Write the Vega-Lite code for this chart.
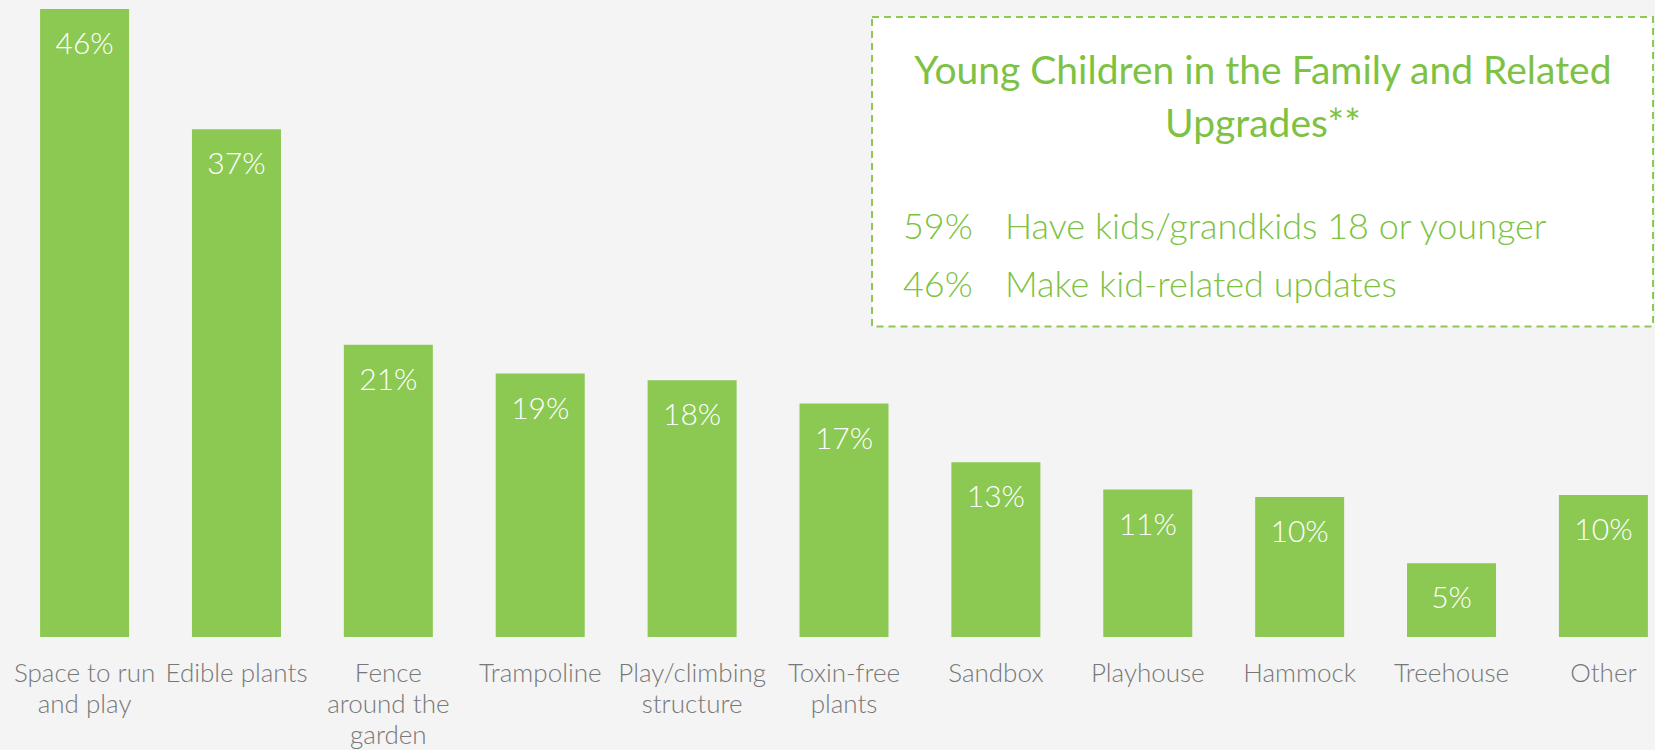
{
  "$schema": "https://vega.github.io/schema/vega-lite/v6.json",
  "autosize": {"type": "none"},
  "width": 1620,
  "height": 637,
  "padding": {"left": 34, "right": 1, "top": 0, "bottom": 113},
  "background": "#f4f4f4",
  "config": {"view": {"stroke": null}, "font": "Lato"},
  "datasets": {
    "upgrades": [
      {"upgrade": "Space to run and play", "share": 46.0, "label": "46%"},
      {"upgrade": "Edible plants", "share": 37.2, "label": "37%"},
      {"upgrade": "Fence around the garden", "share": 21.4, "label": "21%"},
      {"upgrade": "Trampoline", "share": 19.3, "label": "19%"},
      {"upgrade": "Play/climbing structure", "share": 18.8, "label": "18%"},
      {"upgrade": "Toxin-free plants", "share": 17.1, "label": "17%"},
      {"upgrade": "Sandbox", "share": 12.8, "label": "13%"},
      {"upgrade": "Playhouse", "share": 10.8, "label": "11%"},
      {"upgrade": "Hammock", "share": 10.25, "label": "10%"},
      {"upgrade": "Treehouse", "share": 5.4, "label": "5%"},
      {"upgrade": "Other", "share": 10.4, "label": "10%"}
    ],
    "heading": [{"text": "Young Children in the Family and Related\nUpgrades**"}],
    "facts": [
      {"pct": "59%", "statement": "Have kids/grandkids 18 or younger"},
      {"pct": "46%", "statement": "Make kid-related updates"}
    ]
  },
  "layer": [
    {
      "data": {"name": "upgrades"},
      "encoding": {
        "x": {
          "field": "upgrade",
          "type": "nominal",
          "sort": null,
          "scale": {"paddingInner": 0.414, "paddingOuter": 0.04},
          "axis": {
            "title": null,
            "ticks": false,
            "domain": false,
            "labelAngle": 0,
            "labelFontSize": 26,
            "labelFontWeight": 300,
            "labelFont": "Lato",
            "labelColor": "#777777",
            "labelBaseline": "alphabetic",
            "labelPadding": 44,
            "labelLineHeight": 31,
            "labelOverlap": false,
            "labelBound": false,
            "labelLimit": 0,
            "labelExpr": "datum.value == 'Space to run and play' ? ['Space to run', 'and play'] : datum.value == 'Fence around the garden' ? ['Fence', 'around the', 'garden'] : datum.value == 'Play/climbing structure' ? ['Play/climbing', 'structure'] : datum.value == 'Toxin-free plants' ? ['Toxin-free', 'plants'] : datum.value"
          }
        },
        "y": {
          "field": "share",
          "type": "quantitative",
          "scale": {"domain": [0, 46.66], "nice": false, "zero": true},
          "axis": null
        }
      },
      "layer": [
        {"mark": {"type": "bar", "color": "#8bc953"}},
        {
          "mark": {"type": "text", "color": "#ffffff", "fontSize": 30, "fontWeight": 300, "font": "Lato", "baseline": "alphabetic", "dy": 45},
          "encoding": {"text": {"field": "label"}}
        }
      ]
    },
    {
      "layer": [
        {
          "data": {"values": [{}]},
          "mark": {"type": "rect", "fill": "#ffffff", "stroke": "#8bc953", "strokeWidth": 2, "strokeDash": [7, 5]},
          "encoding": {
            "x": {"datum": 51.73, "type": "quantitative", "scale": {"domain": [0, 100], "nice": false, "zero": false}, "axis": null},
            "x2": {"datum": 99.94},
            "y": {"datum": 45.41, "type": "quantitative"},
            "y2": {"datum": 22.74}
          }
        },
        {
          "data": {"name": "heading"},
          "mark": {"type": "text", "color": "#7dc242", "fontSize": 39, "font": "Lato", "align": "center", "baseline": "alphabetic", "lineBreak": "\n", "lineHeight": 53},
          "encoding": {
            "x": {"datum": 75.86, "type": "quantitative"},
            "y": {"datum": 40.5, "type": "quantitative"},
            "text": {"field": "text"}
          }
        },
        {
          "data": {"name": "facts"},
          "mark": {"type": "text", "color": "#7dc242", "fontSize": 36, "fontWeight": 300, "font": "Lato", "align": "left", "baseline": "alphabetic"},
          "encoding": {
            "x": {"datum": 53.64, "type": "quantitative"},
            "y": {"datum": 29.15, "type": "quantitative"},
            "yOffset": {"field": "pct", "type": "nominal", "sort": null, "scale": {"type": "point", "range": [0, 58], "padding": 0}},
            "text": {"field": "pct"}
          }
        },
        {
          "data": {"name": "facts"},
          "mark": {"type": "text", "color": "#7dc242", "fontSize": 36, "fontWeight": 300, "font": "Lato", "align": "left", "baseline": "alphabetic"},
          "encoding": {
            "x": {"datum": 59.94, "type": "quantitative"},
            "y": {"datum": 29.15, "type": "quantitative"},
            "yOffset": {"field": "pct", "type": "nominal", "sort": null, "scale": {"type": "point", "range": [0, 58], "padding": 0}},
            "text": {"field": "statement"}
          }
        }
      ]
    }
  ],
  "resolve": {"scale": {"x": "independent"}}
}
